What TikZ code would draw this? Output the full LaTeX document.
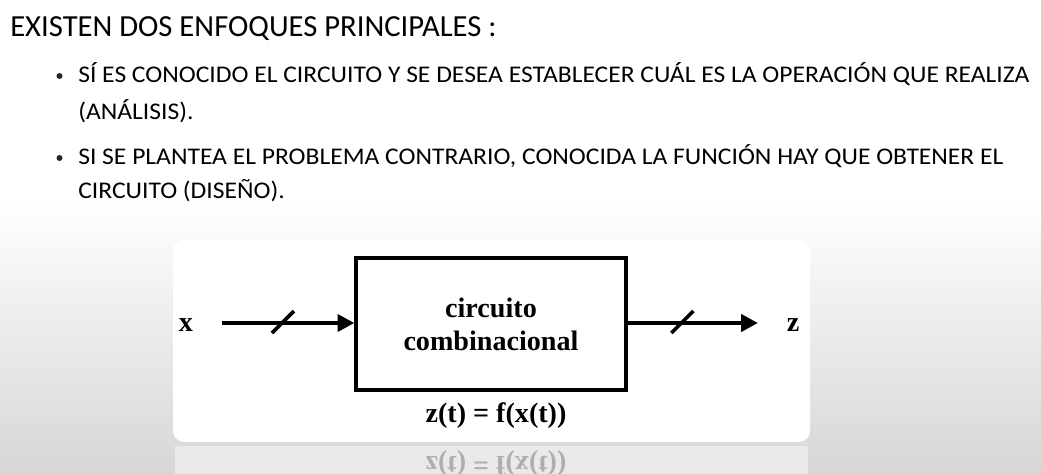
\documentclass[tikz,border=0pt]{standalone}
\usepackage{fontspec}
\setmainfont{Carlito}
\newfontfamily\itemfont[FakeStretch=1.07]{Carlito}
\newfontfamily\scanfont{Liberation Serif}
\usetikzlibrary{arrows.meta,positioning}

\tikzset{
  heading/.style={anchor=base west,inner sep=0pt,font=\fontsize{21.8}{26}\selectfont},
  itemtext/.style={anchor=base west,inner sep=0pt,font=\itemfont\fontsize{17}{20}\selectfont},
  itemdot/.style={circle,fill=black!85,inner sep=0pt,minimum size=0.15cm},
  block/.style={draw,line width=2.2pt,minimum width=6.75cm,minimum height=3.3cm,
    align=center,font=\scanfont\bfseries\fontsize{20}{23.5}\selectfont},
  signal/.style={inner sep=0pt,font=\scanfont\bfseries\fontsize{20}{24}\selectfont},
  bus/.style={line width=3.2pt,-{Triangle[length=12pt,width=12pt]}},
  tick/.style={line width=2.6pt}
}

\begin{document}
\begin{tikzpicture}[x=0.025cm,y=-0.025cm]
  % slide background
  \fill[white] (0,0) rectangle (1041,474);
  \shade[top color=white,bottom color=black!16] (0,200) rectangle (1041,474);
  \useasboundingbox (0,0) rectangle (1041,474);

  % text of the slide
  \node[heading] (title) at (10,36) {EXISTEN DOS ENFOQUES PRINCIPALES :};
  \node[itemdot] (b1) at (59.5,76) {};
  \node[itemtext] (l1) at (78,82) {SÍ ES CONOCIDO EL CIRCUITO Y SE DESEA ESTABLECER CUÁL ES LA OPERACIÓN QUE REALIZA};
  \node[itemtext] (l2) at (78,119) {(ANÁLISIS).};
  \node[itemdot] (b2) at (59.5,158) {};
  \node[itemtext] (l3) at (78,164) {SI SE PLANTEA EL PROBLEMA CONTRARIO, CONOCIDA LA FUNCIÓN HAY QUE OBTENER EL};
  \node[itemtext] (l4) at (78,198) {CIRCUITO (DISEÑO).};

  % white panel and its reflection
  \fill[white,rounded corners=8pt] (173,240) rectangle (810,442);
  \fill[white,opacity=0.45] (175,446) rectangle (808,474);

  % block diagram
  \node[block] (cc) at (491,324) {circuito\\combinacional};
  \node[signal] (x) at (186,325) {x};
  \node[signal] (z) at (793,325) {z};
  \coordinate (xs) at (222,323);
  \coordinate (ze) at (758,323);
  \draw[bus] (xs) -- coordinate[pos=0.46] (s1) (cc.west |- xs);
  \draw[bus] (cc.east |- ze) -- coordinate[pos=0.42] (s2) (ze);
  \draw[tick] (s1) ++(-11,10) -- ++(22,-22);
  \draw[tick] (s2) ++(-11,10) -- ++(22,-22);
  \node[signal] (eq) at (496,416) {z(t) = f(x(t))};
  \node[signal,yscale=-1,opacity=0.25] (eqr) at (496,463) {z(t) = f(x(t))};
\end{tikzpicture}
\end{document}
